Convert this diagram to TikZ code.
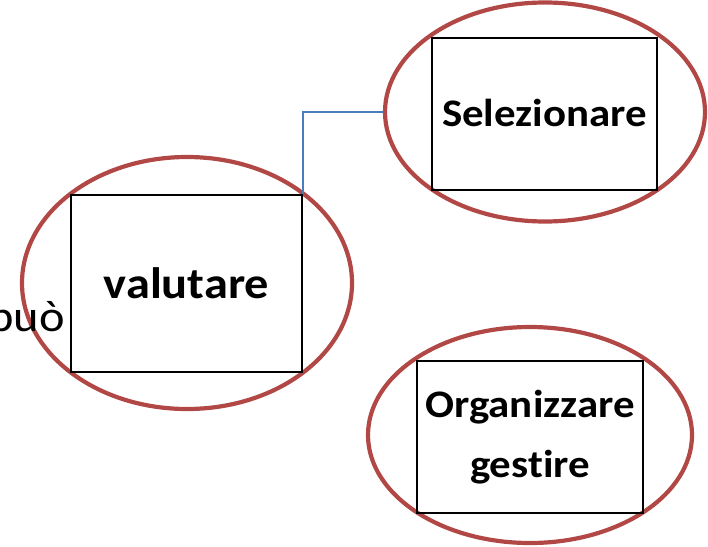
\documentclass[tikz,border=0pt]{standalone}
\usepackage{fontspec}
\setmainfont{Carlito}[FakeStretch=1.1, Ligatures=NoCommon]
\usetikzlibrary{shapes.geometric}
\definecolor{ered}{RGB}{178,72,70}
\definecolor{cblue}{RGB}{74,126,187}
\tikzset{
  oval/.style={ellipse, draw=ered, line width=4.2pt, inner sep=0pt},
  boxnode/.style={rectangle, draw=black, line width=1.9pt, inner sep=0pt, align=center,
    font=\fontsize{39}{60}\selectfont\bfseries},
  conn/.style={draw=cblue, line width=1.6pt},
  plain/.style={font=\fontsize{44}{50}\selectfont, inner sep=0pt}
}
\begin{document}
\begin{tikzpicture}[x=1pt,y=-1pt]
\useasboundingbox (0,0) rectangle (708,546);
% ellipses
\node[oval, minimum width=330pt, minimum height=252pt] (e1) at (187,283) {};
\node[oval, minimum width=320pt, minimum height=219pt] (e2) at (545,112) {};
\node[oval, minimum width=324pt, minimum height=216pt] (e3) at (530,435) {};
% boxes
\node[boxnode, minimum width=231pt, minimum height=177pt, font=\fontsize{44}{60}\selectfont\bfseries] (r1) at (186.5,283.5) {valutare};
\node[boxnode, minimum width=225pt, minimum height=152pt] (r2) at (544.5,114) {\raisebox{3pt}{Selezionare}};
\node[boxnode, minimum width=226pt, minimum height=152pt] (r3) at (530,437) {Organizzare\\gestire};
% connector
\draw[conn] (r1.north east) |- (e2.west);
% side text
\node[plain, anchor=base east] (puo) at (65,331) {può};
\end{tikzpicture}
\end{document}
